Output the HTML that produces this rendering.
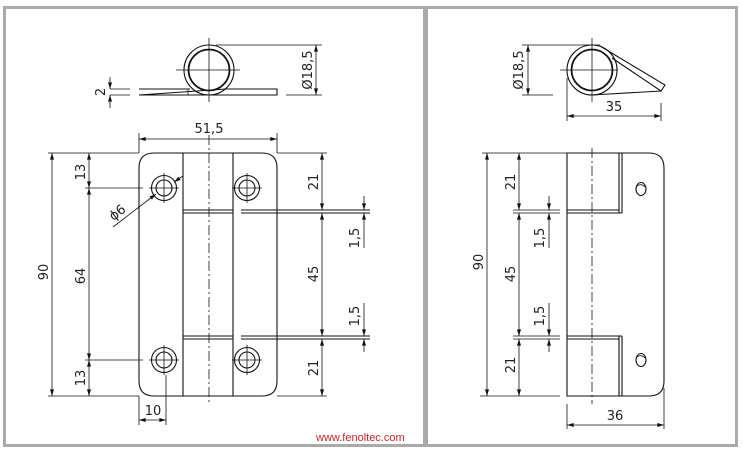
<!DOCTYPE html>
<html><head><meta charset="utf-8"><style>
html,body{margin:0;padding:0;background:#fff;}
svg{display:block;}
text{font-family:"DejaVu Sans","Liberation Sans",sans-serif;font-size:13px;fill:#222;}
</style></head><body>
<svg width="743" height="450" viewBox="0 0 743 450" xmlns="http://www.w3.org/2000/svg">
<defs>
<marker id="a" viewBox="0 0 10 6" refX="10" refY="3" markerWidth="7" markerHeight="4" orient="auto-start-reverse" markerUnits="userSpaceOnUse"><path d="M0,0 L10,3 L0,6 z" fill="#111"/></marker>
</defs>
<rect x="0" y="0" width="743" height="450" fill="#fff"/>
<rect x="4.5" y="7.5" width="420" height="438" fill="none" stroke="#aaa" stroke-width="3"/>
<rect x="426.5" y="7.5" width="310" height="438" fill="none" stroke="#aaa" stroke-width="3"/>

<g stroke="#111" stroke-width="1.1" fill="none">
<circle cx="209" cy="70" r="25"/>
<circle cx="209" cy="70" r="20.5" stroke-width="1.8"/>
<line x1="176" y1="70" x2="240" y2="70" stroke-width="0.8"/>
<line x1="209" y1="38" x2="209" y2="102" stroke-width="0.8"/>
<path d="M139,89 H190 M226,89 H277 V95 H139 Z"/>
<line x1="188" y1="89" x2="188" y2="95" stroke-width="0.8"/>
<line x1="110" y1="89" x2="130" y2="89" stroke-width="0.8"/>
<line x1="110" y1="95" x2="130" y2="95" stroke-width="0.8"/>
<line x1="110" y1="77" x2="110" y2="89" marker-end="url(#a)" stroke-width="0.8"/>
<line x1="110" y1="108" x2="110" y2="95" marker-end="url(#a)" stroke-width="0.8"/>
<line x1="216" y1="45" x2="322" y2="45" stroke-width="0.8"/>
<line x1="286" y1="95" x2="322" y2="95" stroke-width="0.8"/>
<line x1="316" y1="45" x2="316" y2="95" marker-start="url(#a)" marker-end="url(#a)" stroke-width="0.8"/>

<path d="M154,153 H262 Q277,153 277,168 V381 Q277,396 262,396 H154 Q139,396 139,381 V168 Q139,153 154,153 Z"/>
<line x1="183" y1="153" x2="183" y2="396"/>
<line x1="233" y1="153" x2="233" y2="396"/>
<line x1="209" y1="135" x2="209" y2="404" stroke-dasharray="10,3,2,3" stroke-width="0.8"/>
<path d="M183,210 H233 M183,213 H233 M241,210 H370 M241,213 H370 M183,336 H233 M183,339 H233 M241,336 H370 M241,339 H370"/>
<g>
<circle cx="164" cy="188" r="12.5"/><circle cx="164" cy="188" r="8"/>
<circle cx="247" cy="188" r="12.5"/><circle cx="247" cy="188" r="8"/>
<circle cx="164" cy="360" r="12.5"/><circle cx="164" cy="360" r="8"/>
<circle cx="247" cy="360" r="12.5"/><circle cx="247" cy="360" r="8"/>
</g>
<g stroke-width="0.8">
<path d="M149,188 H179 M164,173 V203 M232,188 H262 M247,173 V203 M149,360 H179 M164,345 V375 M232,360 H262 M247,345 V375"/>
</g>
<g stroke-width="0.8">
<line x1="139" y1="133" x2="139" y2="153"/><line x1="277" y1="133" x2="277" y2="153"/>
<line x1="139" y1="139" x2="277" y2="139" marker-start="url(#a)" marker-end="url(#a)"/>
<line x1="48" y1="153" x2="139" y2="153"/><line x1="277" y1="153" x2="327" y2="153"/>
<line x1="48" y1="396" x2="139" y2="396"/><line x1="277" y1="396" x2="327" y2="396"/>
<line x1="52" y1="153" x2="52" y2="396" marker-start="url(#a)" marker-end="url(#a)"/>
<line x1="89" y1="153" x2="89" y2="188" marker-start="url(#a)" marker-end="url(#a)"/>
<line x1="89" y1="188" x2="89" y2="360" marker-start="url(#a)" marker-end="url(#a)"/>
<line x1="89" y1="360" x2="89" y2="396" marker-start="url(#a)" marker-end="url(#a)"/>
<line x1="85" y1="188" x2="143" y2="188"/><line x1="85" y1="360" x2="143" y2="360"/>
<line x1="113" y1="227" x2="156" y2="194" marker-end="url(#a)"/>
<line x1="183" y1="176" x2="174" y2="182" marker-end="url(#a)"/>
<line x1="139" y1="396" x2="139" y2="425"/><line x1="166" y1="375" x2="166" y2="425"/>
<line x1="139" y1="420" x2="166" y2="420" marker-start="url(#a)" marker-end="url(#a)"/>
<line x1="322" y1="153" x2="322" y2="210" marker-start="url(#a)" marker-end="url(#a)"/>
<line x1="322" y1="213" x2="322" y2="336" marker-start="url(#a)" marker-end="url(#a)"/>
<line x1="322" y1="339" x2="322" y2="396" marker-start="url(#a)" marker-end="url(#a)"/>
<line x1="364" y1="196" x2="364" y2="210" marker-end="url(#a)"/>
<line x1="364" y1="248" x2="364" y2="213" marker-end="url(#a)"/>
<line x1="364" y1="303" x2="364" y2="336" marker-end="url(#a)"/>
<line x1="364" y1="352" x2="364" y2="339" marker-end="url(#a)"/>
</g>

<circle cx="592" cy="70" r="25"/>
<circle cx="592" cy="70" r="20.5" stroke-width="1.8"/>
<line x1="560" y1="70" x2="618" y2="70" stroke-width="0.8"/>
<line x1="592" y1="38" x2="592" y2="102" stroke-width="0.8"/>
<path d="M600,46 L665,85 L661,91 L612,58"/>
<path d="M592,95 L661,91"/>
<line x1="522" y1="45" x2="600" y2="45" stroke-width="0.8"/>
<line x1="522" y1="95" x2="553" y2="95" stroke-width="0.8"/>
<line x1="528" y1="45" x2="528" y2="95" marker-start="url(#a)" marker-end="url(#a)" stroke-width="0.8"/>
<line x1="567" y1="78" x2="567" y2="121" stroke-width="0.8"/>
<line x1="661" y1="103" x2="661" y2="121" stroke-width="0.8"/>
<line x1="567" y1="116" x2="661" y2="116" marker-start="url(#a)" marker-end="url(#a)" stroke-width="0.8"/>

<path d="M567,153 H649 Q664,153 664,168 V381 Q664,396 649,396 H567 Z"/>
<path d="M619,153 V213 M622,153 V213 M567,210 H619 M567,213 H622 M619,336 V396 M622,336 V396 M567,336 H622 M567,339 H619"/>
<line x1="592" y1="148" x2="592" y2="404" stroke-dasharray="10,3,2,3" stroke-width="0.8"/>
<ellipse cx="641" cy="189" rx="5" ry="6.5"/><path d="M637,186 Q641,183 645,187" stroke-width="0.8"/>
<ellipse cx="641" cy="360" rx="5" ry="6.5"/><path d="M637,357 Q641,354 645,358" stroke-width="0.8"/>
<g stroke-width="0.8">
<line x1="482" y1="153" x2="567" y2="153"/><line x1="480" y1="396" x2="560" y2="396"/>
<path d="M513,210 H560 M513,213 H560 M513,336 H560 M513,339 H560"/>
<line x1="487" y1="153" x2="487" y2="396" marker-start="url(#a)" marker-end="url(#a)"/>
<line x1="519" y1="153" x2="519" y2="210" marker-start="url(#a)" marker-end="url(#a)"/>
<line x1="519" y1="213" x2="519" y2="336" marker-start="url(#a)" marker-end="url(#a)"/>
<line x1="519" y1="339" x2="519" y2="396" marker-start="url(#a)" marker-end="url(#a)"/>
<line x1="549" y1="196" x2="549" y2="210" marker-end="url(#a)"/>
<line x1="549" y1="248" x2="549" y2="213" marker-end="url(#a)"/>
<line x1="549" y1="303" x2="549" y2="336" marker-end="url(#a)"/>
<line x1="549" y1="352" x2="549" y2="339" marker-end="url(#a)"/>
<line x1="567" y1="404" x2="567" y2="429"/><line x1="664" y1="388" x2="664" y2="429"/>
<line x1="567" y1="425" x2="664" y2="425" marker-start="url(#a)" marker-end="url(#a)"/>
</g>
</g>

<text transform="translate(105,92) rotate(-90)" text-anchor="middle">2</text>
<text transform="translate(312,70) rotate(-90)" text-anchor="middle">Ø18,5</text>
<text x="209" y="133" text-anchor="middle">51,5</text>
<text transform="translate(48,272) rotate(-90)" text-anchor="middle">90</text>
<text transform="translate(85,172) rotate(-90)" text-anchor="middle">13</text>
<text transform="translate(85,276) rotate(-90)" text-anchor="middle">64</text>
<text transform="translate(85,378) rotate(-90)" text-anchor="middle">13</text>
<text transform="translate(120,216) rotate(-38)" text-anchor="middle">ϕ6</text>
<text x="153" y="415" text-anchor="middle">10</text>
<text transform="translate(318,182) rotate(-90)" text-anchor="middle">21</text>
<text transform="translate(318,274) rotate(-90)" text-anchor="middle">45</text>
<text transform="translate(318,368) rotate(-90)" text-anchor="middle">21</text>
<text transform="translate(359,238) rotate(-90)" text-anchor="middle">1,5</text>
<text transform="translate(359,316) rotate(-90)" text-anchor="middle">1,5</text>
<text x="316" y="441" style="fill:#c8262c;font-family:'Liberation Sans',sans-serif;font-size:11px">www.fenoltec.com</text>

<text transform="translate(523,70) rotate(-90)" text-anchor="middle">Ø18,5</text>
<text x="614" y="111" text-anchor="middle">35</text>
<text transform="translate(483,262) rotate(-90)" text-anchor="middle">90</text>
<text transform="translate(515,182) rotate(-90)" text-anchor="middle">21</text>
<text transform="translate(515,274) rotate(-90)" text-anchor="middle">45</text>
<text transform="translate(515,365) rotate(-90)" text-anchor="middle">21</text>
<text transform="translate(544,238) rotate(-90)" text-anchor="middle">1,5</text>
<text transform="translate(544,316) rotate(-90)" text-anchor="middle">1,5</text>
<text x="615" y="420" text-anchor="middle">36</text>
</svg>
</body></html>
